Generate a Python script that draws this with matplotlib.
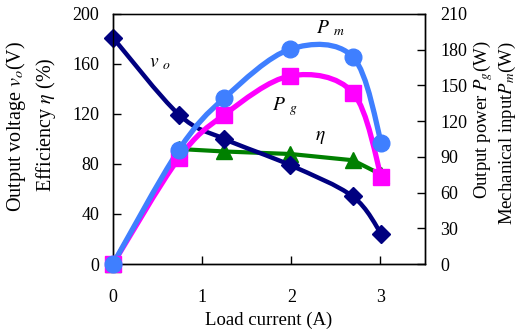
import matplotlib
matplotlib.use("Agg")
import matplotlib.pyplot as plt
from matplotlib.path import Path
from matplotlib.patches import PathPatch

plt.rcParams["font.family"] = ["Liberation Serif", "DejaVu Serif"]
plt.rcParams["mathtext.fontset"] = "stix"

# load current (A)
current = [0, 0.74, 1.25, 1.99, 2.69, 3.01]
# left axis
v_out = [181, 119.5, 100, 79, 54, 24]
efficiency = [0, 92, 90, 88, 83, 71.5]
# right axis (W)
p_mech = [0, 96, 139.5, 180.5, 174, 102]
p_gen = [0, 89, 125.5, 158, 144, 73]


def smooth(ax, xs, ys, color, lw, z):
    # Excel-style smoothed line: cubic Bezier through the points
    n = len(xs)
    verts = [(xs[0], ys[0])]
    codes = [Path.MOVETO]
    for i in range(n - 1):
        x0, y0 = (xs[i - 1], ys[i - 1]) if i > 0 else (xs[i], ys[i])
        x1, y1 = xs[i], ys[i]
        x2, y2 = xs[i + 1], ys[i + 1]
        x3, y3 = (xs[i + 2], ys[i + 2]) if i + 2 < n else (x2, y2)
        verts += [(x1 + (x2 - x0) / 6, y1 + (y2 - y0) / 6),
                  (x2 - (x3 - x1) / 6, y2 - (y3 - y1) / 6),
                  (x2, y2)]
        codes += [Path.CURVE4] * 3
    ax.add_patch(PathPatch(Path(verts, codes), facecolor="none", edgecolor=color,
                           lw=lw, zorder=z, capstyle="round", joinstyle="round"))


fig = plt.figure(figsize=(5.27, 3.33), dpi=100)
ax = fig.add_axes([0.2144, 0.2072, 0.5921, 0.7508])
ax2 = ax.twinx()

navy = "#000080"
green = "#008000"
blue = "#3F7FFF"
magenta = "#FF00FF"

ax.plot(current, efficiency, color=green, lw=3, marker="^", ms=11, zorder=2, clip_on=False)
smooth(ax, current, v_out, navy, 3.2, 2)
ax.plot(current, v_out, ls="none", marker="D", ms=9.5, color=navy, zorder=3, clip_on=False)

smooth(ax2, current, p_gen, magenta, 3.8, 2)
ax2.plot(current, p_gen, ls="none", marker="s", ms=11, color=magenta, zorder=3, clip_on=False)
smooth(ax2, current, p_mech, blue, 3.8, 2)
ax2.plot(current, p_mech, ls="none", marker="o", ms=12, color=blue, zorder=3, clip_on=False)

ax.set_xlim(0, 3.5)
ax.set_ylim(0, 200)
ax2.set_ylim(0, 210)
ax.set_xticks([0, 1, 2, 3])
ax.set_yticks(range(0, 201, 40))
ax2.set_yticks(range(0, 211, 30))

for a in (ax, ax2):
    a.tick_params(direction="in", labelsize=13, length=6, width=1, pad=10)
    for s in a.spines.values():
        s.set_linewidth(1)
ax.spines["top"].set_color("#808080")
ax.tick_params(axis="x", pad=18)
ax2.tick_params(axis="y", pad=11)

ax.set_xlabel("Load current (A)", fontsize=13.5, labelpad=4)

fig.text(0.030, 0.62, "Output voltage $v_o$(V)", rotation=90, ha="center", va="center", fontsize=14.5)
fig.text(0.087, 0.625, "Efficiency $\\eta$ (%)", rotation=90, ha="center", va="center", fontsize=14.5)
fig.text(0.917, 0.64, "Output power $P_g$(W)", rotation=90, ha="center", va="center", fontsize=13.5)
fig.text(0.963, 0.60, "Mechanical input$P_m$(W)", rotation=90, ha="center", va="center", fontsize=13.5)

ax.text(0.53, 160, "$v$ $_o$", fontsize=14, ha="center", va="center")
ax.text(2.44, 189, "$P$ $_m$", fontsize=14, ha="center", va="center")
ax.text(1.93, 126, "$P$ $_g$", fontsize=14, ha="center", va="center")
ax.text(2.33, 101, "$\\eta$", fontsize=14, ha="center", va="center")

fig.savefig("out.png", dpi=100)
